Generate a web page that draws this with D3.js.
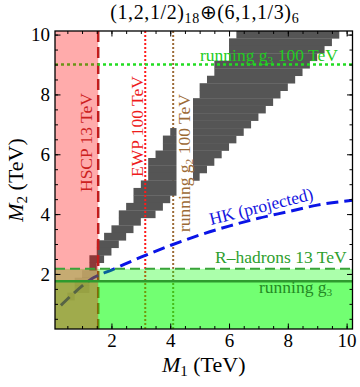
<!DOCTYPE html>
<html>
<head>
<meta charset="utf-8">
<script src="https://cdn.jsdelivr.net/npm/d3@7"></script>
<style>
  body { margin: 0; background: #fff; }
  text { font-family: "Liberation Serif", "Times New Roman", serif; }
</style>
</head>
<body>
<div id="chart"></div>
<script>
// axis ranges and ticks
const xDomain = [0.08, 10.2];
const yDomain = [0.16, 10.12];
const majorTicks = [2, 4, 6, 8, 10];
const minorTicks = d3.range(0.5, 10.01, 0.5);

// excluded region: one row per M2 step of 0.25 (row centre, M1 from, M1 to)
const bandM2  = [10.0, 9.75, 9.5, 9.25, 9.0, 8.75, 8.5, 8.25, 8.0, 7.75, 7.5, 7.25,
                 7.0, 6.75, 6.5, 6.25, 6.0, 5.75, 5.5, 5.25, 5.0, 4.75, 4.5, 4.25,
                 4.0, 3.75, 3.5, 3.25, 3.0, 2.75, 2.5, 2.25, 2.0, 1.75, 1.5, 1.25];
const bandLo  = [6.25, 6.0, 6.0, 6.0, 5.5, 5.5, 5.25, 5.0, 5.0, 4.75, 4.5, 4.5,
                 4.25, 4.0, 3.75, 3.75, 3.5, 3.25, 3.25, 3.25, 3.0, 2.75, 2.75, 2.5,
                 2.25, 2.25, 2.0, 1.75, 1.5, 1.5, 1.25, 1.25, 1.0, 0.75, 0.75, 0.5];
const bandHi  = [9.75, 9.5, 9.25, 9.0, 8.75, 8.5, 8.25, 8.0, 7.75, 7.5, 7.25, 7.0,
                 6.75, 6.5, 6.25, 6.0, 5.75, 5.5, 5.25, 5.0, 4.5, 4.25, 4.0, 3.75,
                 3.5, 3.0, 2.75, 2.5, 2.25, 2.0, 1.75, 1.5, 1.5, 1.25, 1.25, 0.75];
const bandStep = 0.25;

// projected Hyper-Kamiokande reach
const hkM1 = [0.28, 0.7, 1.4, 2.0, 3.0, 4.0, 5.0, 6.0, 7.0, 8.0, 9.0, 10.2];
const hkM2 = [0.95, 1.34, 1.88, 2.13, 2.56, 2.95, 3.3, 3.6, 3.86, 4.08, 4.3, 4.46];

// straight bounds
const hscpM1 = 1.55;      // HSCP 13 TeV
const ewpM1 = 3.15;       // EWP 100 TeV
const g2M1 = 4.1;         // running g2 100 TeV
const g3FutureM2 = 9.0;   // running g3 100 TeV
const rHadronM2 = 2.17;   // R-hadrons 13 TeV
const g3M2 = 1.76;        // running g3

const W = 360, H = 387;
const box = { left: 55, right: 352.5, top: 31, bottom: 329 };

const svg = d3.select("#chart").append("svg")
    .attr("width", W).attr("height", H);
svg.append("rect").attr("width", W).attr("height", H).attr("fill", "#fff");

const x = d3.scaleLinear().domain(xDomain).range([box.left, box.right]);
const y = d3.scaleLinear().domain(yDomain).range([box.bottom, box.top]);

svg.append("clipPath").attr("id", "clip")
  .append("rect")
    .attr("x", box.left).attr("y", box.top)
    .attr("width", box.right - box.left).attr("height", box.bottom - box.top);

const plot = svg.append("g").attr("clip-path", "url(#clip)");

function vline(m1, color, dash, width) {
  plot.append("line")
      .attr("x1", x(m1)).attr("x2", x(m1))
      .attr("y1", box.top).attr("y2", box.bottom)
      .attr("stroke", color).attr("stroke-width", width)
      .attr("stroke-dasharray", dash);
}
function hline(m2, color, dash, width) {
  plot.append("line")
      .attr("x1", box.left).attr("x2", box.right)
      .attr("y1", y(m2)).attr("y2", y(m2))
      .attr("stroke", color).attr("stroke-width", width)
      .attr("stroke-dasharray", dash);
}

// g2 line sits under the grey cells
vline(g2M1, "#9c6a36", "2,2", 2);

// grey excluded cells (the ones under the green shading barely show through)
const rows = bandM2.map((m, i) => ({ m2: m, lo: bandLo[i], hi: bandHi[i] }));
plot.selectAll("rect.band")
  .data(rows)
  .join("rect")
    .attr("class", "band")
    .attr("x", d => x(d.lo))
    .attr("y", d => y(d.m2 + bandStep / 2))
    .attr("width", d => x(d.hi) - x(d.lo))
    .attr("height", d => y(d.m2 - bandStep / 2) - y(d.m2 + bandStep / 2) + 0.3)
    .attr("fill", "#555555")
    .attr("fill-opacity", d => d.m2 < rHadronM2 ? 0.18 : 1);

vline(hscpM1, "#b32424", "11,5", 2.5);
vline(ewpM1, "#ff1a1a", "2,2", 2);
hline(g3FutureM2, "#22dd22", "3,3", 2.5);

// HK projected curve
const hkLine = d3.line()
    .x(d => x(d[0]))
    .y(d => y(d[1]))
    .curve(d3.curveMonotoneX);
plot.append("path")
    .datum(hkM1.map((m, i) => [m, hkM2[i]]))
    .attr("d", hkLine)
    .attr("fill", "none")
    .attr("stroke", "#0a14e6")
    .attr("stroke-width", 3)
    .attr("stroke-dasharray", "12,6");

// shaded exclusions
plot.append("rect")
    .attr("x", box.left).attr("y", y(rHadronM2))
    .attr("width", box.right - box.left).attr("height", box.bottom - y(rHadronM2))
    .attr("fill", "#00ff00").attr("fill-opacity", 0.33);
plot.append("rect")
    .attr("x", box.left).attr("y", y(g3M2))
    .attr("width", box.right - box.left).attr("height", box.bottom - y(g3M2))
    .attr("fill", "#00ff00").attr("fill-opacity", 0.33);
plot.append("rect")
    .attr("x", box.left).attr("y", box.top)
    .attr("width", x(hscpM1) - box.left).attr("height", box.bottom - box.top)
    .attr("fill", "#ff0000").attr("fill-opacity", 0.33);

hline(rHadronM2, "#3aa33a", "10,5", 2);
hline(g3M2, "#2e9a2e", null, 2.5);

// labels inside the frame; {s: ".."} marks a subscript
function label(parts, tx, ty, rot, color, size, backed) {
  const g = svg.append("g")
      .attr("transform", "translate(" + tx + "," + ty + ") rotate(" + rot + ")");
  const t = g.append("text")
      .attr("fill", color)
      .attr("font-size", size);
  parts.forEach(p => {
    if (typeof p === "string") {
      t.append("tspan").text(p);
    } else {
      t.append("tspan").attr("font-size", size * 0.65).attr("dy", 3).text(p.s);
      t.append("tspan").attr("dy", -3).text(" ");
    }
  });
  if (backed) {
    const b = t.node().getBBox();
    g.insert("rect", "text")
        .attr("x", b.x - 1).attr("y", b.y + 2.5)
        .attr("width", b.width + 2).attr("height", b.height - 4.5)
        .attr("fill", "#fff");
  }
  return t;
}

const fs = 17.5;
label(["running g", { s: "3" }, "100 TeV"], 200, 61, 0, "#22cc22", fs);
label(["R\u2013hadrons 13 TeV"], 215, 263, 0, "#2ea02e", fs);
label(["running g", { s: "3" }], 259, 293, 0, "#248a24", fs);
label(["HK (projected)"], 211, 225, -14, "#1414e0", fs);
label(["HSCP 13 TeV"], 92, 192, -90, "#cc2020", fs);
label(["EWP 100 TeV"], 143, 177, -90, "#ee1c1c", fs);
label(["running g", { s: "2" }, "100 TeV"], 190, 232, -90, "#9c6a36", fs, true);

// frame and ticks
function addAxis(axisFn, scale, tx, ty, labels) {
  const minor = svg.append("g")
      .attr("transform", "translate(" + tx + "," + ty + ")")
      .call(axisFn(scale).tickValues(minorTicks).tickSizeInner(-3).tickSizeOuter(0).tickFormat(""));
  minor.select(".domain").remove();
  const major = svg.append("g")
      .attr("transform", "translate(" + tx + "," + ty + ")")
      .call(axisFn(scale).tickValues(majorTicks).tickSizeInner(-5.5).tickSizeOuter(0)
            .tickPadding(5).tickFormat(labels ? d3.format("d") : ""));
  major.select(".domain").remove();
  major.selectAll("text")
      .attr("font-size", 19)
      .attr("font-family", "Liberation Serif, serif")
      .attr("fill", "#000");
  svg.selectAll(".tick line").attr("stroke", "#000").attr("stroke-width", 1);
}
addAxis(d3.axisBottom, x, 0, box.bottom, true);
addAxis(d3.axisTop, x, 0, box.top, false);
addAxis(d3.axisLeft, y, box.left, 0, true);
addAxis(d3.axisRight, y, box.right, 0, false);

svg.append("rect")
    .attr("x", box.left).attr("y", box.top)
    .attr("width", box.right - box.left).attr("height", box.bottom - box.top)
    .attr("fill", "none").attr("stroke", "#000").attr("stroke-width", 1.3);

// title and axis titles
const title = svg.append("text")
    .attr("x", (box.left + box.right) / 2 + 1).attr("y", 19)
    .attr("text-anchor", "middle").attr("font-size", 20)
    .attr("letter-spacing", 0.6);
title.append("tspan").text("(1,2,1/2)");
title.append("tspan").attr("font-size", 14).attr("dy", 4).text("18");
title.append("tspan").attr("dy", -4).text("\u2295(6,1,1/3)");
title.append("tspan").attr("font-size", 14).attr("dy", 4).text("6");

const xTitle = svg.append("text")
    .attr("x", (box.left + box.right) / 2).attr("y", 372)
    .attr("text-anchor", "middle").attr("font-size", 22);
xTitle.append("tspan").attr("font-style", "italic").text("M");
xTitle.append("tspan").attr("font-size", 15).attr("dy", 4).text("1");
xTitle.append("tspan").attr("dy", -4).text(" (TeV)");

const yTitle = svg.append("text")
    .attr("transform", "translate(23," + ((box.top + box.bottom) / 2) + ") rotate(-90)")
    .attr("text-anchor", "middle").attr("font-size", 22);
yTitle.append("tspan").attr("font-style", "italic").text("M");
yTitle.append("tspan").attr("font-size", 15).attr("dy", 4).text("2");
yTitle.append("tspan").attr("dy", -4).text(" (TeV)");
</script>
</body>
</html>
